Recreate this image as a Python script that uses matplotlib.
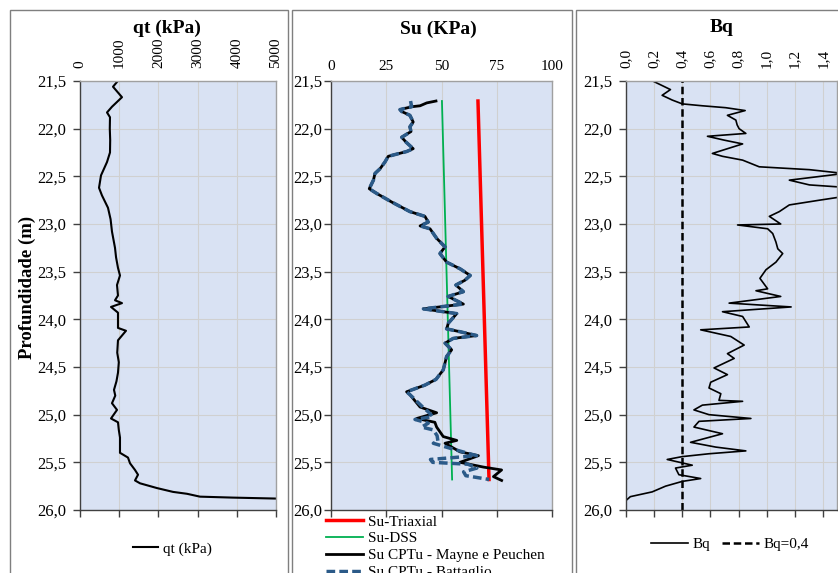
import matplotlib
matplotlib.use("Agg")
import matplotlib.pyplot as plt
from matplotlib.patches import Rectangle

plt.rcParams['font.family'] = ['Liberation Serif', 'DejaVu Serif']

W, H = 838, 573

# ---------------- data ----------------
depth_ticks = [21.5, 22.0, 22.5, 23.0, 23.5, 24.0, 24.5, 25.0, 25.5, 26.0]
depth_labels = ["21,5", "22,0", "22,5", "23,0", "23,5", "24,0", "24,5", "25,0", "25,5", "26,0"]

qt_ticks = [0, 1000, 2000, 3000, 4000, 5000]
qt_labels = ["0", "1000", "2000", "3000", "4000", "5000"]
su_ticks = [0, 25, 50, 75, 100]
su_labels = ["0", "25", "50", "75", "100"]
bq_ticks = [0.0, 0.2, 0.4, 0.6, 0.8, 1.0, 1.2, 1.4]
bq_labels = ["0,0", "0,2", "0,4", "0,6", "0,8", "1,0", "1,2", "1,4"]

qt_depth = [21.51, 21.56, 21.67, 21.77, 21.83, 21.88, 22.00, 22.12, 22.25, 22.35,
            22.49, 22.62, 22.70, 22.83, 22.95, 23.08, 23.25, 23.35, 23.46, 23.54,
            23.64, 23.75, 23.80, 23.83, 23.87, 23.93, 24.09, 24.12, 24.22, 24.35,
            24.45, 24.56, 24.65, 24.74, 24.80, 24.88, 24.95, 25.04, 25.08, 25.16,
            25.24, 25.40, 25.45, 25.51, 25.58, 25.63, 25.69, 25.72, 25.77, 25.81,
            25.83, 25.86, 25.87, 25.88]
qt_kpa = [944, 842, 1071, 816, 689, 765, 760, 770, 765, 689,
          536, 485, 560, 714, 780, 816, 893, 920, 969, 1020,
          944, 969, 893, 1071, 791, 969, 969, 1173, 969, 950,
          990, 969, 930, 867, 900, 816, 944, 791, 969, 990,
          1020, 1020, 1224, 1276, 1403, 1480, 1403, 1531, 1964, 2372,
          2730, 3061, 3900, 5000]

tri_depth = [21.71, 25.68]
tri_su = [66.5, 71.5]
dss_depth = [21.71, 25.68]
dss_su = [50.2, 54.8]

mayne_depth = [21.71, 21.73, 21.76, 21.77, 21.80, 21.82, 21.86, 21.93, 21.98, 22.03,
               22.09, 22.14, 22.21, 22.24, 22.29, 22.35, 22.42, 22.47, 22.54, 22.63,
               22.68, 22.77, 22.87, 22.92, 22.98, 23.02, 23.05, 23.15, 23.24, 23.31,
               23.40, 23.47, 23.54, 23.59, 23.64, 23.71, 23.76, 23.84, 23.89, 23.94,
               24.04, 24.10, 24.13, 24.17, 24.20, 24.25, 24.32, 24.39, 24.53, 24.63,
               24.69, 24.76, 24.79, 24.92, 24.98, 25.04, 25.08, 25.13, 25.23, 25.27,
               25.30, 25.39, 25.43, 25.50, 25.55, 25.58, 25.65, 25.69]
mayne_su = [47.5, 43.3, 40.3, 36.5, 31.2, 32.0, 35.7, 37.2, 35.7, 36.2,
            32.0, 33.9, 37.2, 34.2, 25.9, 24.4, 22.2, 19.9, 19.2, 17.3,
            20.7, 27.5, 35.7, 42.5, 44.0, 40.3, 44.8, 47.8, 51.6, 49.3,
            52.3, 58.4, 63.0, 60.6, 56.5, 59.9, 53.0, 59.9, 41.8, 56.9,
            53.1, 52.3, 58.4, 65.9, 55.3, 51.6, 54.6, 52.3, 50.8, 47.5,
            42.5, 34.2, 35.7, 40.3, 47.8, 38.8, 47.0, 47.8, 50.8, 56.9,
            51.6, 58.4, 66.7, 58.4, 69.0, 77.2, 73.5, 77.2]

batt_depth = [21.71, 21.77, 21.80, 21.82, 21.86, 21.93, 21.98, 22.03, 22.09, 22.14,
              22.21, 22.24, 22.29, 22.35, 22.42, 22.47, 22.54, 22.63, 22.68, 22.77,
              22.87, 22.92, 22.98, 23.02, 23.05, 23.15, 23.24, 23.31, 23.40, 23.47,
              23.54, 23.59, 23.64, 23.71, 23.76, 23.84, 23.89, 23.94, 24.04, 24.10,
              24.13, 24.17, 24.20, 24.25, 24.32, 24.39, 24.53, 24.63, 24.69, 24.76,
              24.79, 24.92, 24.97, 25.02, 25.05, 25.09, 25.13, 25.16, 25.22, 25.28,
              25.30, 25.36, 25.43, 25.47, 25.50, 25.52, 25.56, 25.60, 25.64, 25.68]
batt_su = [36.0, 36.5, 31.2, 32.0, 35.7, 37.2, 35.7, 36.2, 32.0, 33.9,
           37.2, 34.2, 25.9, 24.4, 22.2, 19.9, 19.2, 17.3, 20.7, 27.5,
           35.7, 42.5, 44.0, 40.3, 44.8, 47.8, 51.6, 49.3, 52.3, 58.4,
           63.0, 60.6, 56.5, 59.9, 53.0, 59.9, 41.8, 56.9, 53.1, 52.3,
           58.4, 65.9, 55.3, 51.6, 54.6, 52.3, 50.8, 47.5, 42.5, 34.2,
           35.7, 41.5, 44.0, 46.0, 38.0, 44.0, 41.0, 46.3, 48.0, 48.4,
           46.3, 55.0, 65.9, 45.0, 46.0, 62.0, 66.0, 60.0, 61.0, 71.6]

bq_depth = [21.50, 21.59, 21.65, 21.70, 21.74, 21.76, 21.78, 21.81, 21.86, 21.91,
            21.96, 22.00, 22.05, 22.08, 22.12, 22.16, 22.26, 22.29, 22.33, 22.40,
            22.43, 22.47, 22.54, 22.59, 22.62, 22.70, 22.75, 22.80, 22.87, 22.92,
            23.00, 23.01, 23.05, 23.10, 23.19, 23.26, 23.31, 23.40, 23.48, 23.57,
            23.68, 23.70, 23.76, 23.83, 23.87, 23.92, 23.97, 24.08, 24.11, 24.18,
            24.27, 24.36, 24.41, 24.51, 24.58, 24.66, 24.72, 24.78, 24.85, 24.86,
            24.90, 24.95, 25.00, 25.04, 25.07, 25.13, 25.20, 25.29, 25.34, 25.38,
            25.41, 25.44, 25.47, 25.53, 25.56, 25.63, 25.67, 25.70, 25.75, 25.81,
            25.86, 25.90]
bq_vals = [0.19, 0.316, 0.257, 0.329, 0.40, 0.543, 0.709, 0.847, 0.721, 0.781,
           0.79, 0.804, 0.852, 0.579, 0.697, 0.829, 0.614, 0.686, 0.829, 0.947,
           1.304, 1.55, 1.161, 1.304, 1.60, 1.60, 1.376, 1.161, 1.09, 1.019,
           1.10, 0.793, 1.007, 1.043, 1.066, 1.079, 1.114, 1.066, 0.995, 0.952,
           1.007, 0.924, 1.10, 0.733, 1.174, 0.686, 0.829, 0.876, 0.531, 0.745,
           0.84, 0.721, 0.769, 0.626, 0.721, 0.602, 0.59, 0.674, 0.661, 0.829,
           0.543, 0.483, 0.59, 0.888, 0.519, 0.483, 0.686, 0.459, 0.638, 0.852,
           0.59, 0.40, 0.293, 0.471, 0.352, 0.376, 0.531, 0.40, 0.281, 0.186,
           0.031, 0.0]
bq_ref = 0.4

# ---------------- figure ----------------
fig = plt.figure(figsize=(W / 100, H / 100), dpi=100)
fig.patch.set_facecolor('white')

def fx(px):
    return px / W

def fy(py):
    return 1 - py / H

# panel frames (chart areas)
for x0, x1 in [(10, 288), (292, 572), (576, 845)]:
    fig.patches.append(Rectangle((fx(x0), fy(600)), fx(x1) - fx(x0), fy(10) - fy(600),
                                 transform=fig.transFigure, fill=False,
                                 edgecolor='#7f7f7f', linewidth=1.0, zorder=0))

def make_ax(x0, x1, xlim, xticks, xlabels, rot, xpad, ypad):
    ax = fig.add_axes([fx(x0), fy(510), fx(x1) - fx(x0), fy(81) - fy(510)])
    ax.set_facecolor('#D9E2F3')
    ax.set_ylim(26.0, 21.5)
    ax.set_xlim(*xlim)
    ax.set_yticks(depth_ticks)
    ax.set_yticklabels(depth_labels)
    ax.set_xticks(xticks)
    ax.set_xticklabels(xlabels, rotation=rot)
    ax.tick_params(axis='x', top=False, labeltop=True, bottom=True, labelbottom=False,
                   direction='out', length=5, width=1, color='#404040',
                   labelsize=11, pad=xpad)
    ax.tick_params(axis='y', direction='out', length=5, width=1, color='#404040',
                   labelsize=12, pad=ypad)
    ax.grid(True, color='#D0D0D0', linewidth=0.8)
    ax.set_axisbelow(True)
    for s in ['left', 'bottom']:
        ax.spines[s].set_color('#404040')
        ax.spines[s].set_linewidth(1.0)
    for s in ['top', 'right']:
        ax.spines[s].set_color('#a0a0a0')
        ax.spines[s].set_linewidth(1.0)
    return ax

ax1 = make_ax(80, 276, (0, 5000), qt_ticks, qt_labels, 90, 4, 5)
ax2 = make_ax(331, 552, (0, 100), su_ticks, su_labels, 0, 0.5, 1.5)
ax3 = make_ax(626, 837, (0, 1.5), bq_ticks, bq_labels, 90, 4, 5)

# panel 1
l_qt, = ax1.plot(qt_kpa, qt_depth, color='black', linewidth=1.5)
# panel 2
l_tri, = ax2.plot(tri_su, tri_depth, color='#FF0000', linewidth=2.5)
l_dss, = ax2.plot(dss_su, dss_depth, color='#00B050', linewidth=1.3)
l_may, = ax2.plot(mayne_su, mayne_depth, color='black', linewidth=2.0)
l_bat, = ax2.plot(batt_su, batt_depth, color='#2B5A88', linewidth=2.5,
                  linestyle=(0, (2.5, 1.2)))
# panel 3
l_bq, = ax3.plot(bq_vals, bq_depth, color='black', linewidth=1.2)
l_ref = ax3.axvline(bq_ref, color='black', linewidth=1.8, linestyle=(0, (3, 1.5)))

# titles
fig.text(fx(167), fy(28), "qt (kPa)", ha='center', va='center', fontsize=14, fontweight='bold')
fig.text(fx(438), fy(29), "Su (KPa)", ha='center', va='center', fontsize=14, fontweight='bold')
fig.text(fx(722), fy(28), "Bq", ha='center', va='center', fontsize=14, fontweight='bold')
fig.text(fx(27), fy(287), "Profundidade (m)", ha='center', va='center', rotation=90,
         fontsize=13.5, fontweight='bold')

# legends
fig.legend([l_qt], ["qt (kPa)"], loc='center left',
           bbox_to_anchor=(fx(133), fy(549)), frameon=False, fontsize=11,
           handlelength=1.65, handletextpad=0.3, borderpad=0.0, borderaxespad=0.0)
fig.legend([l_tri, l_dss, l_may, l_bat],
           ["Su-Triaxial", "Su-DSS", "Su CPTu - Mayne e Peuchen", "Su CPTu - Battaglio"],
           loc='upper left', bbox_to_anchor=(fx(326), fy(515)), frameon=False,
           fontsize=11, handlelength=2.45, handletextpad=0.3, labelspacing=0.2,
           borderpad=0.0, borderaxespad=0.0)
fig.legend([l_bq, l_ref], ["Bq", "Bq=0,4"], loc='center left',
           bbox_to_anchor=(fx(651), fy(544)), frameon=False, fontsize=11,
           ncol=2, handlelength=2.4, handletextpad=0.3, columnspacing=0.8,
           borderpad=0.0, borderaxespad=0.0)

fig.savefig("out.png", dpi=100, facecolor='white')
